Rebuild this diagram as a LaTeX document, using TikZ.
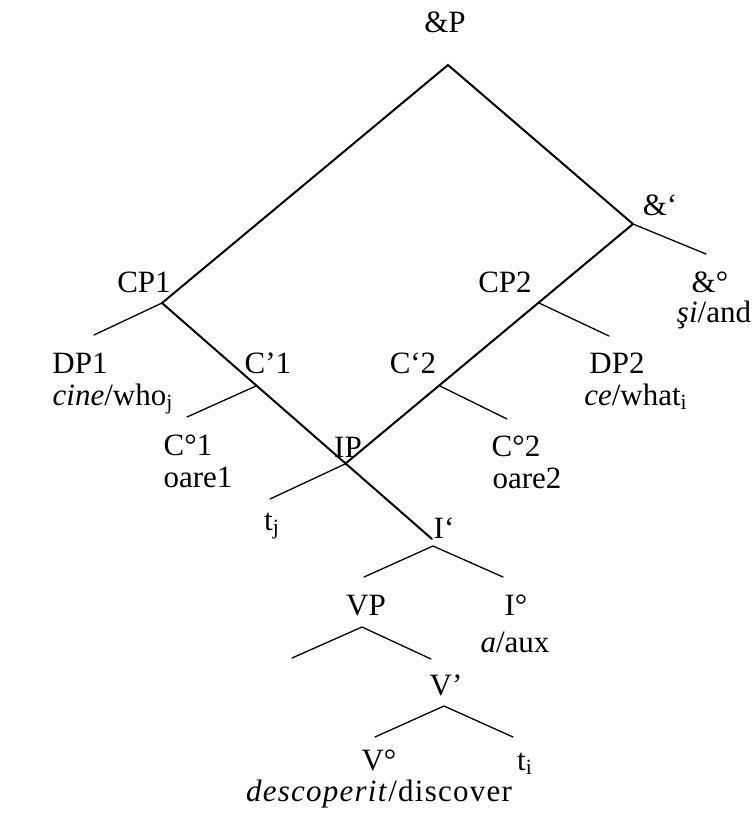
\documentclass[tikz,border=0pt]{standalone}
\usepackage{fontspec}
\setmainfont{Liberation Serif}
\begin{document}
\begin{tikzpicture}[x=0.5pt,y=-0.5pt,
  lab/.style={anchor=base,inner sep=0pt,font=\fontsize{15.5}{18}\selectfont},
  mainln/.style={line width=1pt,line cap=round},
  thinln/.style={line width=0.65pt,line cap=round}]
\useasboundingbox (0,0) rectangle (755,816);
% junctions
\coordinate (A) at (448,65);
\coordinate (P1) at (162,303);
\coordinate (Q) at (633,224);
\coordinate (DP1e) at (94,335);
\coordinate (ANDe) at (706,254);
\coordinate (Iend) at (432,539);
\coordinate (C1) at (256,386);
\coordinate (C1e) at (187,417);
\coordinate (IPj) at (345,464);
\coordinate (tje) at (270,499);
\coordinate (P2) at (539,303);
\coordinate (DP2e) at (609,336);
\coordinate (C2) at (440,386);
\coordinate (C2e) at (507,419);
\coordinate (Ij) at (433,546);
\coordinate (Ijl) at (364,577);
\coordinate (Ijr) at (503,577);
\coordinate (VPj) at (362,627);
\coordinate (VPl) at (292,658);
\coordinate (VPr) at (431,659);
\coordinate (Vj) at (444,706);
\coordinate (Vl) at (375,737);
\coordinate (Vr) at (513,737);
% main lines
\draw[mainln] (P1) -- (A) -- (Q);
\draw[mainln] (P1) -- (Iend);
\draw[mainln] (Q) -- (IPj);
% thin lines
\draw[thinln] (P1) -- (DP1e);
\draw[thinln] (Q) -- (ANDe);
\draw[thinln] (C1) -- (C1e);
\draw[thinln] (IPj) -- (tje);
\draw[thinln] (P2) -- (DP2e);
\draw[thinln] (C2) -- (C2e);
\draw[thinln] (Ijl) -- (Ij) -- (Ijr);
\draw[thinln] (VPl) -- (VPj) -- (VPr);
\draw[thinln] (Vl) -- (Vj) -- (Vr);
% labels
\node[lab] (andP) at (445,32) {\&P};
\node[lab] (andbar) at (660,215) {\&‘};
\node[lab] (cp1) at (144,292) {CP1};
\node[lab] (cp2) at (505,292) {CP2};
\node[lab] (and0) at (710,292) {\&°};
\node[lab] (si) at (714,322) {\textit{şi}/and};
\node[lab] (dp1) at (80,373) {DP1};
\node[lab] (cine) at (113,405) {\textit{cine}/who\textsubscript{j}};
\node[lab] (cb1) at (268,373) {C’1};
\node[lab] (cb2) at (413,373) {C‘2};
\node[lab] (dp2) at (617,373) {DP2};
\node[lab] (ce) at (636,405) {\textit{ce}/what\textsubscript{i}};
\node[lab] (c01) at (188,455) {C°1};
\node[lab] (oare1) at (198,487) {oare1};
\node[lab] (ip) at (348,457) {IP};
\node[lab] (c02) at (516,456) {C°2};
\node[lab] (oare2) at (527,488) {oare2};
\node[lab] (tj) at (272,530) {t\textsubscript{j}};
\node[lab] (ibar) at (444,538) {I‘};
\node[lab] (vp) at (366,615) {VP};
\node[lab] (i0) at (516,615) {I°};
\node[lab] (aux) at (515,652) {\textit{a}/aux};
\node[lab] (vbar) at (446,695) {V’};
\node[lab] (v0) at (379,770) {V°};
\node[lab] (ti) at (525,770) {t\textsubscript{i}};
\node[lab] (desc) at (379,801) {\addfontfeature{LetterSpace=4}\textit{descoperit}/discover};
\end{tikzpicture}
\end{document}
